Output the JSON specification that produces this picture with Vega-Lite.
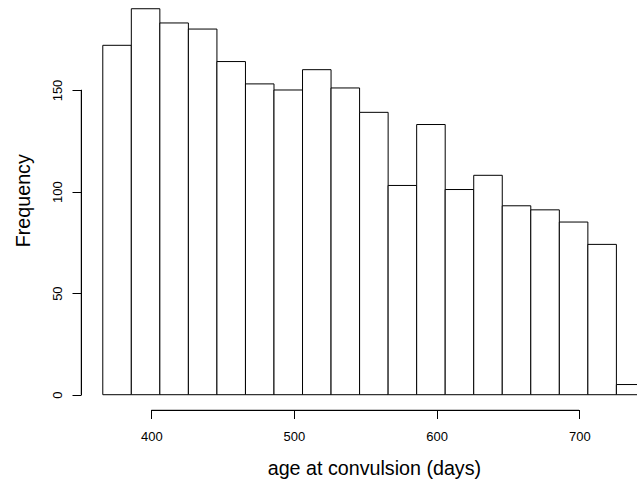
{
  "$schema": "https://vega.github.io/schema/vega-lite/v6.json",
  "autosize": "none",
  "width": 556,
  "height": 410,
  "padding": {"left": 81, "top": 0, "right": 0, "bottom": 69},
  "background": "white",
  "config": {
    "view": {"stroke": null},
    "font": "Liberation Sans",
    "axis": {
      "grid": false,
      "domain": false,
      "tickColor": "black",
      "tickWidth": 1,
      "labelColor": "black",
      "titleColor": "black",
      "labelFont": "Liberation Sans",
      "titleFont": "Liberation Sans",
      "labelFontSize": 13,
      "titleFontSize": 19.7,
      "titleFontWeight": "normal"
    }
  },
  "data": {
    "values": [
      {"bin_start": 366, "bin_end": 386, "count": 172},
      {"bin_start": 386, "bin_end": 406, "count": 190},
      {"bin_start": 406, "bin_end": 426, "count": 183},
      {"bin_start": 426, "bin_end": 446, "count": 180},
      {"bin_start": 446, "bin_end": 466, "count": 164},
      {"bin_start": 466, "bin_end": 486, "count": 153},
      {"bin_start": 486, "bin_end": 506, "count": 150},
      {"bin_start": 506, "bin_end": 526, "count": 160},
      {"bin_start": 526, "bin_end": 546, "count": 151},
      {"bin_start": 546, "bin_end": 566, "count": 139},
      {"bin_start": 566, "bin_end": 586, "count": 103},
      {"bin_start": 586, "bin_end": 606, "count": 133},
      {"bin_start": 606, "bin_end": 626, "count": 101},
      {"bin_start": 626, "bin_end": 646, "count": 108},
      {"bin_start": 646, "bin_end": 666, "count": 93},
      {"bin_start": 666, "bin_end": 686, "count": 91},
      {"bin_start": 686, "bin_end": 706, "count": 85},
      {"bin_start": 706, "bin_end": 726, "count": 74},
      {"bin_start": 726, "bin_end": 746, "count": 5}
    ]
  },
  "layer": [
    {
      "mark": {"type": "bar", "fill": "white", "stroke": "black", "strokeWidth": 1, "clip": true},
      "encoding": {
        "x": {
          "field": "bin_start",
          "type": "quantitative",
          "scale": {"domain": [350.73, 740.44], "nice": false, "zero": false},
          "axis": {
            "title": "age at convulsion (days)",
            "values": [400, 500, 600, 700],
            "tickSize": 8.5,
            "labelPadding": 22.2,
            "labelBaseline": "alphabetic",
            "labelAngle": 0,
            "titleBaseline": "alphabetic",
            "titleX": 292.9,
            "titleY": 64.3,
            "titleAnchor": "middle"
          }
        },
        "x2": {"field": "bin_end"},
        "y": {
          "field": "count",
          "type": "quantitative",
          "scale": {"domain": [-7.53, 194.3], "nice": false, "zero": false},
          "axis": {
            "title": "Frequency",
            "values": [0, 50, 100, 150],
            "tickSize": 9,
            "labelAngle": 270,
            "labelAlign": "center",
            "labelBaseline": "alphabetic",
            "labelPadding": 10.7,
            "titleAngle": 270,
            "titleBaseline": "alphabetic",
            "titleX": -51.7,
            "titleY": 200.2,
            "titleAnchor": "middle"
          }
        },
        "y2": {"datum": 0}
      }
    },
    {
      "mark": {"type": "rule", "color": "black", "strokeWidth": 1},
      "encoding": {
        "x": {"datum": 400, "type": "quantitative"},
        "x2": {"datum": 700},
        "y": {"datum": -7.776, "type": "quantitative"}
      }
    },
    {
      "mark": {"type": "rule", "color": "black", "strokeWidth": 1},
      "encoding": {
        "x": {"datum": 351.08, "type": "quantitative"},
        "y": {"datum": 0, "type": "quantitative"},
        "y2": {"datum": 150}
      }
    }
  ]
}
